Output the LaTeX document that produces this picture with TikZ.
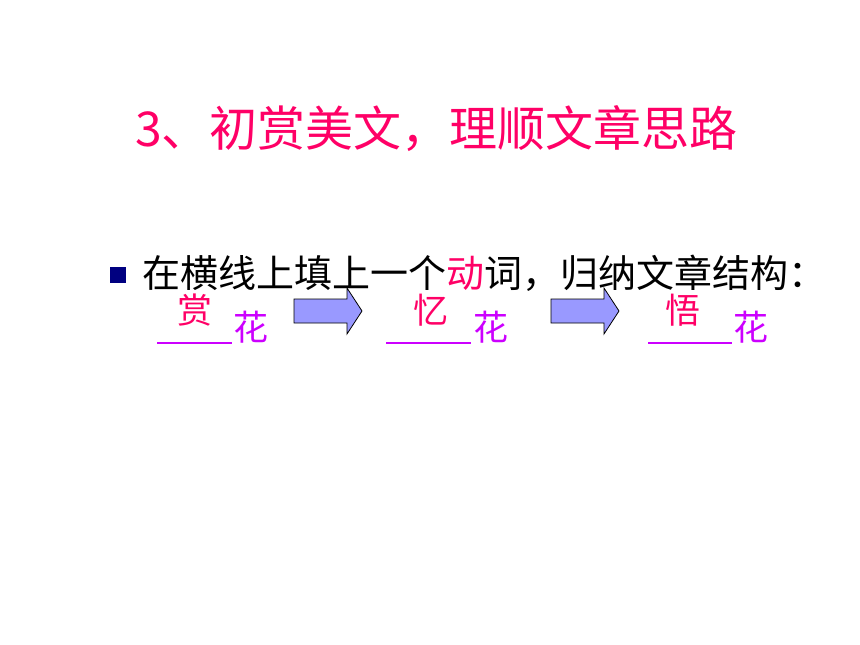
\documentclass[tikz,border=0pt]{standalone}
\usepackage{fontspec}
\setmainfont{Noto Sans CJK SC}
\usetikzlibrary{positioning}
\definecolor{titlepink}{HTML}{FF0066}
\definecolor{flowerpurple}{HTML}{CC00FF}
\definecolor{arrowblue}{HTML}{9999FF}
\definecolor{bulletnavy}{HTML}{000080}

\begin{document}
\begin{tikzpicture}[x=1pt,y=-1pt,
    title/.style={text=titlepink, font=\fontsize{48}{56}\selectfont, inner sep=0, anchor=base west},
    body/.style={font=\fontsize{38}{46}\selectfont, inner sep=0, anchor=base west},
    verbword/.style={text=titlepink, font=\fontsize{35}{40}\selectfont, inner sep=0, anchor=base west},
    flower/.style={text=flowerpurple, font=\fontsize{35}{40}\selectfont, inner sep=0, anchor=base west},
    blank/.style={draw=flowerpurple, line width=1.6pt},
    blockarrow/.style={fill=arrowblue, draw=black, line width=0.8pt, line join=miter}]
    \useasboundingbox (0,0) rectangle (860,645);
    \node[title] (title) at (135,146.5) {3、初赏美文，理顺文章思路};
    \fill[bulletnavy] (110,267) rectangle (126,283);
    \node[body] (task) at (142,287) {在横线上填上一个\textcolor{titlepink}{动}词，归纳文章结构：};
    % blanks with the filled-in verbs
    \foreach \word/\vx/\fx/\ua/\ub [count=\i] in {赏/177/233/157/232, 忆/413/473/386/471, 悟/665/733/648/732}{
      \node[verbword] (verb\i) at (\vx,323.5) {\word};
      \node[flower] (flower\i) at (\fx,340.5) {花};
      \draw[blank] (\ua,343) -- (\ub,343);
    }
    % arrows between the steps
    \foreach \ax in {294,551}{
      \draw[blockarrow] (\ax,299) -- (\ax+53,299) -- (\ax+53,288) -- (\ax+68,311)
        -- (\ax+53,334) -- (\ax+53,323) -- (\ax,323) -- cycle;
    }
\end{tikzpicture}
\end{document}
